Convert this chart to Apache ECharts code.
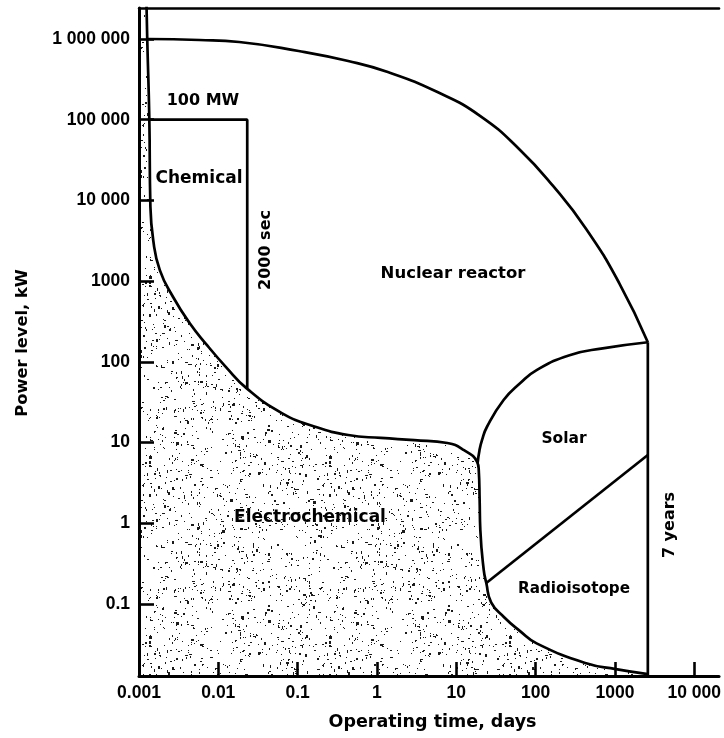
<!DOCTYPE html>
<html>
<head>
<meta charset="utf-8">
<script src="https://cdn.jsdelivr.net/npm/echarts@6/dist/echarts.min.js"></script>
<style>
html,body{margin:0;padding:0;background:#fff;}
#chart{width:724px;height:738px;}
</style>
</head>
<body>
<div id="chart"></div>
<script>
// ---- Axis ticks and labels ----
const xTickValues = [0.001, 0.01, 0.1, 1, 10, 100, 1000, 10000];
const xTickLabels = ['0.001', '0.01', '0.1', '1', '10', '100', '1000', '10 000'];
const yTickValues = [0.1, 1, 10, 100, 1000, 10000, 100000, 1000000];
const yTickLabels = ['0.1', '1', '10', '100', '1000', '10 000', '100 000', '1 000 000'];

// ---- Boundary curves (operating time in days, power in kW) ----
// Electrochemical upper boundary (continues as Radioisotope lower boundary)
const electroDays = [0.00124, 0.00127, 0.00135, 0.00139, 0.00151, 0.00183, 0.00269, 0.00434, 0.00702, 0.0125, 0.0226, 0.0631, 0.166, 0.434, 1.12, 2.96, 7.72, 12.5, 18.3, 19.2, 19.7, 20.1, 22.2, 23.9, 27.5, 39.5, 63.7, 103, 434, 1029, 2600];
const electroKW   = [3000000, 1000000, 100000, 9000, 3230, 1370, 636, 303, 166, 86.1, 47.3, 23.2, 15.7, 12.4, 11.4, 10.7, 9.87, 8.07, 5.78, 4.56, 1.94, 0.824, 0.263, 0.182, 0.105, 0.0695, 0.0461, 0.0325, 0.0184, 0.0156, 0.0135];

// Nuclear reactor upper boundary
const nuclearDays = [0.00127, 0.00579, 0.0183, 0.103, 0.434, 1.37, 5.79, 20.1, 63.7, 166, 434, 1132, 2600];
const nuclearKW   = [1000000, 972000, 918000, 710000, 534000, 390000, 220000, 111000, 42200, 15100, 4430, 946, 175];

// Solar upper boundary
const solarDays = [18.6, 19.6, 21.1, 24.4, 39.5, 63.7, 103, 268, 702, 2600];
const solarKW   = [5.6, 8.0, 10.7, 15.7, 33.7, 54.2, 79, 121, 147, 175];

// Solar / Radioisotope dividing line
const divideDays = [23.9, 2600];
const divideKW   = [0.182, 7.0];

// 7 years limit
const sevenYearDays = [2600, 2600];
const sevenYearKW   = [175, 0.005];

// Chemical: 100 MW ceiling and 2000 sec limit
const chemDays = [0.00135, 2000 / 86400, 2000 / 86400];
const chemKW   = [100000, 100000, 47];

// Region labels
const labelTexts = ['100 MW', 'Chemical', '2000 sec', 'Nuclear reactor', 'Solar', 'Electrochemical', 'Radioisotope', '7 years'];
const xAxisName = 'Operating time, days';
const yAxisName = 'Power level, kW';

// ---- helpers ----
const pair = (xs, ys) => xs.map((x, i) => [x, ys[i]]);
function lookup(values, labels, v) {
  for (let i = 0; i < values.length; i++) {
    if (Math.abs(Math.log10(v) - Math.log10(values[i])) < 1e-6) return labels[i];
  }
  return '';
}
function makeStipple() {
  const size = 180;
  const c = document.createElement('canvas');
  c.width = size; c.height = size;
  const g = c.getContext('2d');
  g.fillStyle = '#fff';
  g.fillRect(0, 0, size, size);
  g.fillStyle = '#1a1a1a';
  let s = 987654321;
  const next = () => { s = (Math.imul(s, 1664525) + 1013904223) >>> 0; return s / 4294967296; };
  for (let i = 0; i < 900; i++) {
    const x = next() * size, y = next() * size;
    const w = 1 + Math.floor(next() * next() * 3);
    const h = 1 + Math.floor(next() * next() * 3);
    g.fillRect(Math.floor(x), Math.floor(y), w, h);
  }
  return c;
}

const X_MIN = 0.001, X_MAX = 20540;
const Y_MIN = 0.01282, Y_MAX = 2420000;

const lineStyle = { color: '#000', width: 2.7 };
const boundary = (name, data, smooth) => ({
  name, type: 'line', data, smooth, showSymbol: false, symbol: 'none',
  lineStyle, z: 5, silent: true, clip: true
});

const chart = echarts.init(document.getElementById('chart'), null, { renderer: 'canvas' });

const labelFont = (size) => 'bold ' + size + 'px "DejaVu Sans"';
const textEl = (text, x, y, size, rot) => ({
  type: 'text', x, y, rotation: rot || 0, z: 10,
  style: { text, x: 0, y: 0, align: 'center', verticalAlign: 'middle', font: labelFont(size), fill: '#000' }
});

chart.setOption({
  animation: false,
  backgroundColor: '#fff',
  grid: { left: 139, right: 0, top: 8, bottom: 62, containLabel: false },
  xAxis: [{
    type: 'log', logBase: 10, min: X_MIN, max: X_MAX, position: 'bottom', z: 10,
    axisLine: { show: true, lineStyle: { color: '#000', width: 3 } },
    axisTick: { show: true, inside: true, length: 14, customValues: xTickValues, lineStyle: { color: '#000', width: 2.6 } },
    axisLabel: {
      show: true, customValues: xTickValues, margin: 8,
      fontFamily: '"Liberation Sans", Arial, sans-serif', fontWeight: 'bold', fontSize: 17.5, color: '#000',
      formatter: v => lookup(xTickValues, xTickLabels, v)
    },
    splitLine: { show: false }, minorTick: { show: false }
  }, {
    type: 'log', logBase: 10, min: X_MIN, max: X_MAX, position: 'top', z: 10,
    axisLine: { show: true, lineStyle: { color: '#000', width: 2.5 } },
    axisTick: { show: false }, axisLabel: { show: false }, splitLine: { show: false }
  }],
  yAxis: [{
    type: 'log', logBase: 10, min: Y_MIN, max: Y_MAX, z: 10,
    axisLine: { show: true, lineStyle: { color: '#000', width: 3 } },
    axisTick: { show: true, inside: true, length: 15, customValues: yTickValues, lineStyle: { color: '#000', width: 2.6 } },
    axisLabel: {
      show: true, customValues: yTickValues, margin: 9,
      fontFamily: '"Liberation Sans", Arial, sans-serif', fontWeight: 'bold', fontSize: 17.5, color: '#000',
      formatter: v => lookup(yTickValues, yTickLabels, v)
    },
    splitLine: { show: false }, minorTick: { show: false }
  }],
  series: [
    {
      name: 'Electrochemical area', type: 'line', showSymbol: false, symbol: 'none', silent: true,
      data: [[X_MIN, electroKW[0]]].concat(pair(electroDays, electroKW)),
      smooth: 0.5,
      lineStyle: { width: 0 },
      areaStyle: { color: { image: makeStipple(), repeat: 'repeat' }, opacity: 1, origin: 'start' },
      z: 1
    },
    boundary('Electrochemical', pair(electroDays, electroKW), 0.5),
    boundary('Nuclear reactor', pair(nuclearDays, nuclearKW), 0.5),
    boundary('Solar', pair(solarDays, solarKW), 0.5),
    boundary('Radioisotope', pair(divideDays, divideKW), false),
    boundary('7 years', pair(sevenYearDays, sevenYearKW), false),
    boundary('Chemical', pair(chemDays, chemKW), false)
  ],
  graphic: [
    textEl(labelTexts[0], 203, 101, 16),
    textEl(labelTexts[1], 199, 179, 17),
    textEl(labelTexts[2], 265.5, 250, 16, Math.PI / 2),
    textEl(labelTexts[3], 453, 274, 16.5),
    textEl(labelTexts[4], 564, 439, 15.5),
    textEl(labelTexts[5], 310, 518, 17),
    textEl(labelTexts[6], 574, 589, 15.2),
    textEl(labelTexts[7], 670, 525, 16, Math.PI / 2),
    textEl(xAxisName, 432.5, 722, 17.5),
    textEl(yAxisName, 23, 343, 16.3, Math.PI / 2)
  ]
});
</script>
</body>
</html>
